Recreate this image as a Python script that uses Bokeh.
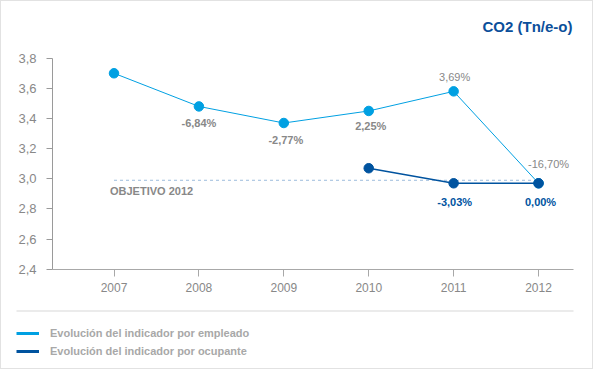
from bokeh.plotting import figure
from bokeh.models import (Range1d, FixedTicker, CustomJSTickFormatter, Label,
                          Legend, LegendItem, BoxAnnotation, ColumnDataSource)
from bokeh.core.properties import value
from bokeh.embed import file_html
from bokeh.resources import INLINE

# ---- data ----
years = [2007, 2008, 2009, 2010, 2011, 2012]
empleado = [3.70, 3.48, 3.37, 3.45, 3.58, 2.97]
empleado_labels = ["", "-6,84%", "-2,77%", "2,25%", "3,69%", "-16,70%"]
ocupante_years = [2010, 2011, 2012]
ocupante = [3.07, 2.97, 2.97]
ocupante_labels = ["", "-3,03%", "0,00%"]
target_years = [2007, 2012]
target_value = 2.99
target_label = "OBJETIVO 2012"
y_ticks = [2.4, 2.6, 2.8, 3.0, 3.2, 3.4, 3.6, 3.8]
y_min, y_max = 2.4, 3.8
x_axis_from, x_axis_to = 2006.276, 2012.412
title_text = "CO2 (Tn/e-o)"
legend_names = ["Evolución del indicador por empleado", "Evolución del indicador por ocupante"]

# ---- styles / layout ----
LIGHT = "#00a0e2"
DARK = "#00539f"
GRAY = "#888888"
FONT = "Liberation Sans"

emp_dx = [0, 0, 2, 2, 1, 10]
emp_dy = [0, 17, 17, 15, -14, -19]
emp_style = ["bold", "bold", "bold", "bold", "normal", "normal"]
occ_dx = [0, 1, 2]
occ_dy = [0, 19, 19]

W, H = 593, 369
PX_X = 84.91          # pixels per year
PX_Y = 150.71         # pixels per unit
X0_PX = 112.5         # canvas x of first year
Y_MIN_PX = 267.7      # canvas y of y_min
x_start = years[0] - X0_PX / PX_X
x_end = x_start + W / PX_X
y_end = y_min + Y_MIN_PX / PX_Y
y_start = y_min - (H - Y_MIN_PX) / PX_Y

p = figure(width=W, height=H, output_backend="svg", toolbar_location=None,
           x_range=Range1d(x_start, x_end), y_range=Range1d(y_start, y_end),
           min_border_left=0, min_border_right=0, min_border_top=0, min_border_bottom=0)
p.styles = {"border": "1px solid #e2e2e2"}
p.outline_line_color = None
p.xgrid.visible = False
p.ygrid.visible = False

# axes (pinned inside the frame)
p.yaxis.fixed_location = x_axis_from
p.yaxis.bounds = (y_min, y_max)
p.yaxis.ticker = FixedTicker(ticks=y_ticks)
p.yaxis.formatter = CustomJSTickFormatter(code="return tick.toFixed(1).replace('.', ',');")
p.yaxis.axis_line_color = "#9a9a9a"
p.yaxis.major_tick_line_color = "#9a9a9a"
p.yaxis.major_tick_out = 6
p.yaxis.major_tick_in = 0
p.yaxis.minor_tick_line_color = None
p.yaxis.major_label_standoff = 10
p.yaxis.major_label_text_font = FONT
p.yaxis.major_label_text_font_size = "13px"
p.yaxis.major_label_text_color = GRAY

p.xaxis.fixed_location = y_min
p.xaxis.bounds = (x_axis_from, x_axis_to)
p.xaxis.ticker = FixedTicker(ticks=years)
p.xaxis.axis_line_color = "#a8a8a8"
p.xaxis.major_tick_line_color = "#a8a8a8"
p.xaxis.major_tick_out = 7
p.xaxis.major_tick_in = 0
p.xaxis.minor_tick_line_color = None
p.xaxis.major_label_standoff = 7
p.xaxis.major_label_text_font = FONT
p.xaxis.major_label_text_font_size = "12px"
p.xaxis.major_label_text_color = GRAY

# target dashed line
p.line(target_years, [target_value] * len(target_years), line_color="#9dbcdc",
       line_width=1, line_dash="3 3")
p.text(x=[target_years[0]], y=[target_value], text=[target_label], x_offset=-4, y_offset=11,
       text_align="left", text_baseline="middle", text_font=value(FONT),
       text_font_size="11px", text_font_style="bold", text_color=GRAY)

# series
p.line(years, empleado, line_color=LIGHT, line_width=1)
p.scatter(years, empleado, size=9.5, marker="circle", fill_color=LIGHT, line_color=LIGHT)
p.line(ocupante_years, ocupante, line_color=DARK, line_width=1.4)
p.scatter(ocupante_years, ocupante, size=9.5, marker="circle", fill_color=DARK, line_color=DARK)

# data labels
src_e = ColumnDataSource(dict(x=years, y=empleado, t=empleado_labels, dx=emp_dx, dy=emp_dy, fs=emp_style))
p.text(x="x", y="y", text="t", x_offset="dx", y_offset="dy", source=src_e,
       text_align="center", text_baseline="middle", text_font=value(FONT),
       text_font_size="11px", text_font_style="fs", text_color=GRAY)
src_o = ColumnDataSource(dict(x=ocupante_years, y=ocupante, t=ocupante_labels, dx=occ_dx, dy=occ_dy))
p.text(x="x", y="y", text="t", x_offset="dx", y_offset="dy", source=src_o,
       text_align="center", text_baseline="middle", text_font=value(FONT),
       text_font_size="11px", text_font_style="bold", text_color=DARK)

# title
p.add_layout(Label(x=571, y=H - 25, x_units="screen", y_units="screen", text=title_text,
                   text_align="right", text_baseline="middle", text_font=FONT,
                   text_font_size="15px", text_font_style="bold", text_color="#0b4f9b"))

# separator line
p.add_layout(BoxAnnotation(left=15, right=572, top=H - 309, bottom=H - 310,
                           left_units="screen", right_units="screen",
                           top_units="screen", bottom_units="screen",
                           fill_color="#d8d8d8", fill_alpha=1, line_color=None))

# legend (line-only swatches)
nan = float("nan")
r1 = p.line([years[0]], [nan], line_color=LIGHT, line_width=3)
r2 = p.line([years[0]], [nan], line_color=DARK, line_width=3)
legend = Legend(items=[LegendItem(label=legend_names[0], renderers=[r1]),
                       LegendItem(label=legend_names[1], renderers=[r2])],
                location=(15, 10), glyph_width=23, glyph_height=18, label_height=18,
                label_standoff=11, spacing=0, padding=0, margin=0,
                border_line_color=None, background_fill_alpha=0,
                label_text_font=FONT, label_text_font_size="11px",
                label_text_font_style="bold", label_text_color="#a8a8a8")
p.add_layout(legend, "center")

open("out.html", "w").write(file_html(p, INLINE))
